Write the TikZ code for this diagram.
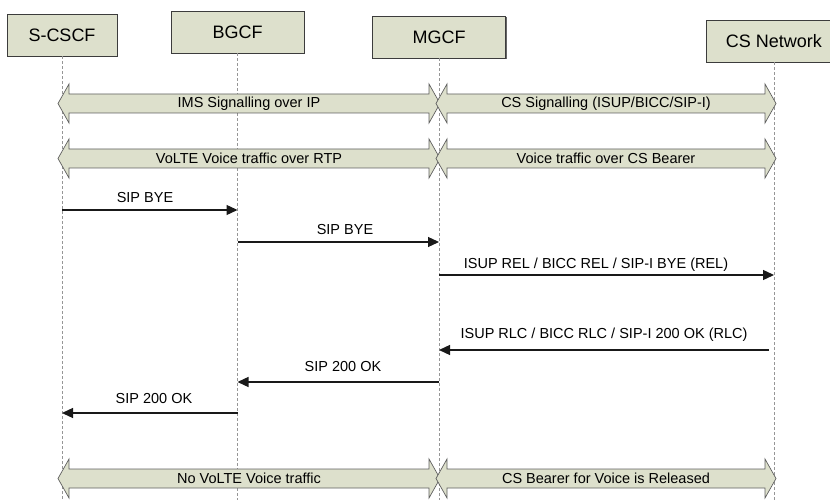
\documentclass[tikz,border=0pt]{standalone}
\usepackage{fontspec}
\setmainfont{Liberation Sans}
\usetikzlibrary{arrows.meta,shadows}
\definecolor{boxfill}{RGB}{221,224,204}
\definecolor{boxline}{RGB}{60,60,60}
\definecolor{lifecol}{RGB}{150,150,150}
\definecolor{bandline}{RGB}{95,95,95}
\newcommand\mybandarrow[3]{%
  \draw[band] (#1,#3) -- ({#1+11},{#3-19.5}) -- ({#1+11},{#3-9.5}) -- ({#2-11},{#3-9.5}) -- ({#2-11},{#3-19.5}) -- (#2,#3) -- ({#2-11},{#3+19.5}) -- ({#2-11},{#3+9.5}) -- ({#1+11},{#3+9.5}) -- ({#1+11},{#3+19.5}) -- cycle;}
\begin{document}
\begin{tikzpicture}[x=1bp,y=-1bp,
  entity/.style={draw=boxline, line width=0.8bp, fill=boxfill, minimum height=42bp, inner sep=0pt,
    font=\fontsize{18bp}{20bp}\selectfont,
    drop shadow={shadow xshift=1.2bp, shadow yshift=-1.2bp, fill=black!60, opacity=1}},
  life/.style={draw=lifecol, line width=0.6bp, dash pattern=on 3bp off 2bp},
  msg/.style={draw=black!90, line width=1.3bp, -{Triangle[length=11bp,width=10bp]}},
  msglabel/.style={anchor=base, inner sep=0pt, font=\fontsize{14.5bp}{17bp}\selectfont},
  band/.style={draw=bandline, line width=0.7bp, fill=boxfill, line join=miter},
  bandlabel/.style={inner sep=0pt, font=\fontsize{14.5bp}{17bp}\selectfont},
]
\useasboundingbox (0,0) rectangle (830,500);
\clip (0,0) rectangle (830,500);

% entities
\node[entity, minimum width=110bp] (sc) at (62,35) {S-CSCF};
\node[entity, minimum width=133bp] (bg) at (237.5,32) {BGCF};
\node[entity, minimum width=133bp] (mg) at (439,37) {MGCF};
\node[entity, minimum width=136bp] (cs) at (774,41) {CS Network};

% lifelines
\coordinate (scend) at (62,500);
\coordinate (bgend) at (237.5,500);
\coordinate (mgend) at (439,500);
\coordinate (csend) at (774,500);
\draw[life] (sc.south) -- (scend);
\draw[life] (bg.south) -- (bgend);
\draw[life] (mg.south) -- (mgend);
\draw[life] (cs.south) -- (csend);

% band arrows
\mybandarrow{58}{440}{103.5}
\mybandarrow{436}{776}{103.5}
\mybandarrow{58}{440}{158.5}
\mybandarrow{436}{776}{158.5}
\mybandarrow{58}{440}{478.5}
\mybandarrow{436}{776}{478.5}
\node[bandlabel] (b1) at (249,103.5) {IMS Signalling over IP};
\node[bandlabel] (b2) at (606,103.5) {CS Signalling (ISUP/BICC/SIP-I)};
\node[bandlabel] (b3) at (249,158.5) {VoLTE Voice traffic over RTP};
\node[bandlabel] (b4) at (606,158.5) {Voice traffic over CS Bearer};
\node[bandlabel] (b5) at (249,478.5) {No VoLTE Voice traffic};
\node[bandlabel] (b6) at (606,478.5) {CS Bearer for Voice is Released};

% message points
\coordinate (m1a) at (62,210);   \coordinate (m1b) at (237.5,210);
\coordinate (m2a) at (237.5,242);\coordinate (m2b) at (439,242);
\coordinate (m3a) at (439,275);  \coordinate (m3b) at (774,275);
\coordinate (m4a) at (769,350);  \coordinate (m4b) at (439,350);
\coordinate (m5a) at (439,382);  \coordinate (m5b) at (237.5,382);
\coordinate (m6a) at (237.5,413);\coordinate (m6b) at (62,413);

\draw[msg] (m1a) -- (m1b);
\draw[msg] (m2a) -- (m2b);
\draw[msg] (m3a) -- (m3b);
\draw[msg] (m4a) -- (m4b);
\draw[msg] (m5a) -- (m5b);
\draw[msg] (m6a) -- (m6b);

\node[msglabel] (l1) at (145,203) {SIP BYE};
\node[msglabel] (l2) at (345,235) {SIP BYE};
\node[msglabel] (l3) at (596,269) {ISUP REL / BICC REL / SIP-I BYE (REL)};
\node[msglabel] (l4) at (604,338.5) {ISUP RLC / BICC RLC / SIP-I 200 OK (RLC)};
\node[msglabel] (l5) at (343,371) {SIP 200 OK};
\node[msglabel] (l6) at (154,403.5) {SIP 200 OK};
\end{tikzpicture}
\end{document}
